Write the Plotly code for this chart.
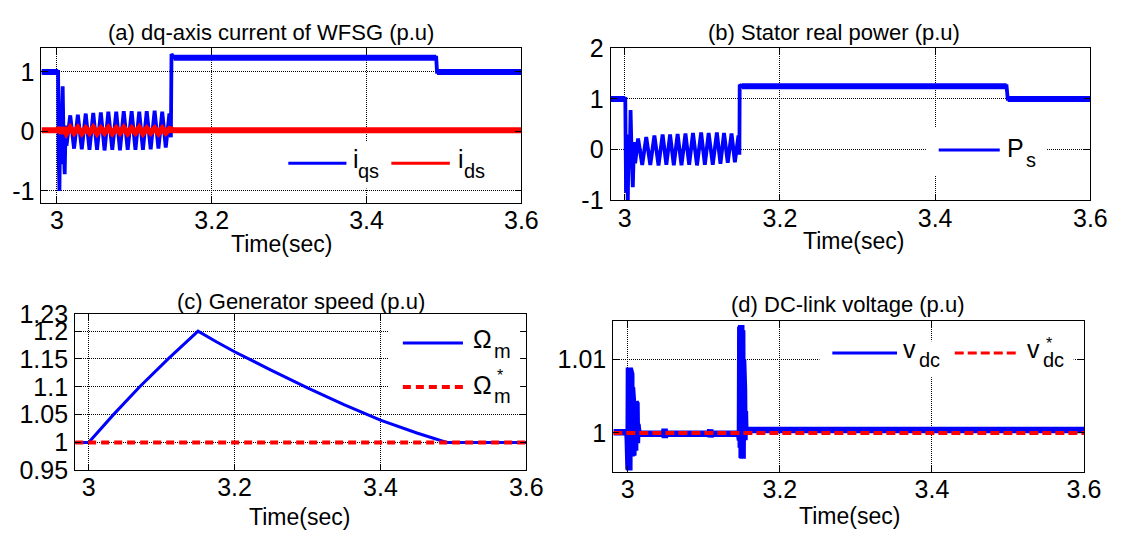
import plotly.graph_objects as go

W, H = 1133, 545
FONT = "Liberation Sans, Arial, Helvetica, sans-serif"
BLUE = "#0000ff"
RED = "#ff0000"

# ---------------------------------------------------------------- data ----
time_ticks = [3.0, 3.2, 3.4, 3.6]
time_labels = ["3", "3.2", "3.4", "3.6"]

# (a) q- and d-axis stator current of the WFSG (p.u)
iqs_t = [2.980, 3.0015, 3.0022, 3.0032, 3.0042, 3.0052, 3.0062, 3.0074, 3.0086,
         3.0100, 3.0112, 3.0123, 3.0172, 3.0221, 3.0270, 3.0321, 3.0372, 3.0420,
         3.0469, 3.0518, 3.0567, 3.0615, 3.0664, 3.0715, 3.0766, 3.0814, 3.0863,
         3.0914, 3.0965, 3.1014, 3.1063, 3.1111, 3.1160, 3.1211, 3.1262, 3.1311,
         3.1360, 3.1406, 3.1453, 3.1472, 3.1480, 3.1510, 3.4900, 3.4910, 3.6000]
iqs_v = [1.00, 1.00, -0.40, -1.00, 0.15, -0.55, 0.25, 0.76, -0.20,
         -0.72, 0.10, -0.24, 0.27, -0.29, 0.28, -0.30, 0.30, -0.31,
         0.31, -0.31, 0.32, -0.32, 0.33, -0.31, 0.33, -0.32, 0.34,
         -0.31, 0.34, -0.31, 0.33, -0.31, 0.34, -0.30, 0.35, -0.29,
         0.33, -0.27, 0.30, -0.10, 1.30, 1.24, 1.24, 1.00, 1.00]
ids_t = [2.980, 3.0010, 3.0030, 3.0060, 3.0090, 3.0123, 3.0172, 3.0221, 3.0270,
         3.0321, 3.0372, 3.0420, 3.0469, 3.0518, 3.0567, 3.0615, 3.0664, 3.0715,
         3.0766, 3.0814, 3.0863, 3.0914, 3.0965, 3.1014, 3.1063, 3.1111, 3.1160,
         3.1211, 3.1262, 3.1311, 3.1360, 3.1406, 3.1453, 3.1500, 3.6000]
ids_v = [0.02, 0.02, 0.06, -0.03, 0.06, -0.03, 0.06, -0.02, 0.06,
         -0.03, 0.05, -0.02, 0.06, -0.03, 0.05, -0.02, 0.06, -0.03,
         0.05, -0.02, 0.06, -0.03, 0.05, -0.02, 0.06, -0.03, 0.05,
         -0.02, 0.05, -0.03, 0.05, -0.02, 0.04, 0.02, 0.02]

# (b) stator real power (p.u)
ps_t = [2.982, 3.0008, 3.0018, 3.0028, 3.0040, 3.0052, 3.0064, 3.0076, 3.0090,
        3.0105, 3.0120, 3.0135, 3.0173, 3.0226, 3.0278, 3.0330, 3.0383, 3.0436,
        3.0489, 3.0537, 3.0585, 3.0633, 3.0682, 3.0732, 3.0783, 3.0831, 3.0880,
        3.0932, 3.0985, 3.1033, 3.1082, 3.1135, 3.1188, 3.1234, 3.1280, 3.1328,
        3.1377, 3.1420, 3.1466, 3.1478, 3.1482, 3.1510, 3.4920, 3.4935, 3.6000]
ps_v = [1.00, 1.00, -0.85, 0.10, -1.05, 0.30, -0.35, 0.78, -0.15,
        -0.74, 0.15, -0.27, 0.22, -0.30, 0.25, -0.30, 0.28, -0.31,
        0.30, -0.30, 0.30, -0.31, 0.31, -0.31, 0.32, -0.30, 0.33,
        -0.31, 0.34, -0.30, 0.33, -0.30, 0.34, -0.28, 0.33, -0.26,
        0.32, -0.25, 0.28, -0.10, 1.28, 1.25, 1.25, 1.00, 1.00]

# (c) generator speed and its reference (p.u)
wm_t = [2.9815, 3.000, 3.034, 3.070, 3.109, 3.150, 3.175, 3.200, 3.250,
        3.300, 3.350, 3.400, 3.450, 3.491, 3.600]
wm_v = [1.000, 1.000, 1.050, 1.100, 1.150, 1.200, 1.181, 1.163, 1.130,
        1.098, 1.068, 1.040, 1.017, 1.000, 1.000]
wm_ref_t = [2.9815, 3.600]
wm_ref_v = [1.000, 1.000]

# (d) DC-link voltage and its reference (p.u)
vdc_t = [2.981, 2.9995, 3.0000, 3.0005, 3.0010, 3.0015, 3.0020, 3.0025, 3.0030,
         3.0035, 3.0040, 3.0045, 3.0050, 3.0055, 3.0060, 3.0066, 3.0072, 3.0078,
         3.0084, 3.0090, 3.0096, 3.0102, 3.0108, 3.0114, 3.0120, 3.0126, 3.0132,
         3.0140, 3.0480, 3.0484, 3.0488, 3.0492, 3.1080, 3.1084, 3.1088, 3.1092,
         3.1465, 3.1470, 3.1475, 3.1480, 3.1486, 3.1492, 3.1498, 3.1504, 3.1510,
         3.1516, 3.1522, 3.1528, 3.1534, 3.1540, 3.1546, 3.1560, 3.6000]
vdc_v = [1.0001, 1.0001, 0.9990, 1.0040, 0.9950, 1.0089, 0.9949, 1.0088, 0.9955,
         1.0086, 0.9966, 1.0080, 0.9968, 1.0062, 0.9968, 1.0045, 0.9969, 1.0042,
         0.9971, 1.0042, 0.9976, 1.0042, 0.9983, 1.0040, 0.9986, 1.0012, 0.9995,
         0.9999, 0.9999, 1.0006, 0.9993, 0.9999, 0.9999, 1.0005, 0.9994, 0.9999,
         0.9999, 1.0118, 0.9990, 1.0145, 0.9980, 1.0147, 0.9966, 1.0140, 0.9965,
         1.0100, 0.9968, 1.0060, 0.9990, 1.0030, 1.0000, 1.0004, 1.0004]
vdc_ref_t = [2.981, 3.600]
vdc_ref_v = [1.000, 1.000]

# y-axis ticks
a_yticks = [-1, 0, 1]
b_yticks = [-1, 0, 1, 2]
c_yticks = [0.95, 1.0, 1.05, 1.1, 1.15, 1.2, 1.23]
c_ylabels = ["0.95", "1", "1.05", "1.1", "1.15", "1.2", "1.23"]
d_yticks = [1.0, 1.01]
d_ylabels = ["1", "1.01"]

titles = ["(a) dq-axis current of WFSG (p.u)", "(b) Stator real power (p.u)",
          "(c) Generator speed (p.u)", "(d) DC-link voltage (p.u)"]
xlabel = "Time(sec)"


# ------------------------------------------------------------- helpers ----
def fx(p):
    return p / W


def fy(p):
    return 1 - p / H


def flat_runs(t, v):
    """Pieces of a series where consecutive samples hold the same level."""
    xs, ys, last = [], [], None
    for i in range(len(t) - 1):
        if v[i] == v[i + 1]:
            if last != i:
                if xs:
                    xs.append(None)
                    ys.append(None)
                xs.append(t[i])
                ys.append(v[i])
            xs.append(t[i + 1])
            ys.append(v[i + 1])
            last = i + 1
    return xs, ys


# panel frames in pixels: (left, right), (top, bottom)
panels = [
    dict(x=(42.1, 529.3), y=(36.0, 199.0), xr=[2.980, 3.6], yr=[-1.2, 1.4],
         yt=a_yticks, yl=[str(v) for v in a_yticks]),
    dict(x=(620.0, 1107.0), y=(36.0, 196.5), xr=[2.982, 3.6], yr=[-1.0, 2.0],
         yt=b_yticks, yl=[str(v) for v in b_yticks]),
    dict(x=(76.3, 534.3), y=(316.7, 481.0), xr=[2.9815, 3.6], yr=[0.95, 1.23],
         yt=c_yticks, yl=c_ylabels),
    dict(x=(622.7, 1100.5), y=(324.0, 482.7), xr=[2.981, 3.6], yr=[0.9947, 1.0152],
         yt=d_yticks, yl=d_ylabels),
]

fig = go.Figure()


def add(i, x, y, color, width, dash=None):
    fig.add_trace(go.Scatter(
        x=x, y=y, mode="lines", xaxis="x" if i == 1 else f"x{i}",
        yaxis="y" if i == 1 else f"y{i}", hoverinfo="skip",
        line=dict(color=color, width=width, dash=dash), showlegend=False))


# (a)
add(1, iqs_t, iqs_v, BLUE, 3.8)
add(1, *flat_runs(iqs_t, iqs_v), BLUE, 6)
add(1, ids_t, ids_v, RED, 6)
# (b)
add(2, ps_t, ps_v, BLUE, 3.8)
add(2, *flat_runs(ps_t, ps_v), BLUE, 6)
# (c)
add(3, wm_t, wm_v, BLUE, 3)
add(3, wm_ref_t, wm_ref_v, RED, 4, "8px,5px")
# (d)
add(4, vdc_t, vdc_v, BLUE, 6.5)
add(4, vdc_ref_t, vdc_ref_v, RED, 4, "9px,4px")

layout = dict(width=W, height=H, margin=dict(l=0, r=0, t=0, b=0),
              paper_bgcolor="white", plot_bgcolor="white", showlegend=False,
              font=dict(family=FONT, color="black"))

common = dict(showline=True, linecolor="black", linewidth=1.2, mirror="ticks",
              ticks="inside", ticklen=6, tickwidth=1, tickcolor="black",
              showgrid=True, gridcolor="#000000", gridwidth=1, griddash="1px,1px",
              zeroline=False, tickfont=dict(family=FONT, size=25, color="black"))

for i, p in enumerate(panels, start=1):
    sfx = "" if i == 1 else str(i)
    layout["xaxis" + sfx] = dict(
        common, domain=[fx(p["x"][0]), fx(p["x"][1])], range=p["xr"],
        anchor="y" + sfx, tickmode="array", tickvals=time_ticks,
        ticktext=time_labels, ticklabelstandoff=-5)
    layout["yaxis" + sfx] = dict(
        common, domain=[fy(p["y"][1]), fy(p["y"][0])], range=p["yr"],
        anchor="x" + sfx, tickmode="array", tickvals=p["yt"],
        ticktext=p["yl"], ticklabelstandoff=1)

annotations = []
shapes = []


def text(s, xc, yc, size):
    annotations.append(dict(text=s, x=fx(xc), y=fy(yc), xref="paper", yref="paper",
                            xanchor="center", yanchor="middle", showarrow=False,
                            font=dict(family=FONT, size=size, color="black")))


def text_base(s, xc, baseline, size):
    # place by baseline: box centre sits ~0.35 em above the baseline
    text(s, xc, baseline - 0.3465 * size, size)


def star(xc, yc, size=16):
    # asterisk glyph centre sits ~0.22 em above its text-box centre
    text("*", xc, yc + 0.22 * size, size)


# titles and time labels
for s, (xc, yc) in zip(titles, [(275, 19), (846.5, 19), (305.5, 303), (861, 306.5)]):
    text(s, xc, yc, 22)
for xc, yc in [(285.7, 242), (866, 239), (304, 530), (862, 529)]:
    text(xlabel, xc, yc, 23)


def box(x0, y0, x1, y1):
    shapes.append(dict(type="rect", xref="paper", yref="paper", x0=fx(x0), x1=fx(x1),
                       y0=fy(y1), y1=fy(y0), fillcolor="white", line=dict(width=0),
                       layer="above"))


def sample(x0, x1, y, color, width, dash=None):
    shapes.append(dict(type="line", xref="paper", yref="paper", x0=fx(x0), x1=fx(x1),
                       y0=fy(y), y1=fy(y), layer="above",
                       line=dict(color=color, width=width, dash=dash)))


LEG, SUB = 25, 20

# legend (a)
box(287, 134, 497, 184)
sample(292.7, 351.7, 157.3, BLUE, 3)
sample(397.3, 456.7, 157.3, RED, 3)
text_base("i", 361.3, 161.7, LEG)
text_base("qs", 374.5, 172.7, SUB)
text_base("i", 468.3, 161.7, LEG)
text_base("ds", 482, 172.7, SUB)
# legend (b)
box(940, 120, 1063, 170)
sample(953, 1015, 143.3, BLUE, 3)
text_base("P", 1031, 150, LEG)
text_base("s", 1047, 161, SUB)
# legend (c)
box(394, 322, 528, 417)
sample(409, 470, 346.7, BLUE, 3)
sample(409, 470, 393.3, RED, 4, "8px,5px")
text_base("Ω", 490, 351.7, LEG)
text_base("m", 510, 361.7, SUB)
text_base("Ω", 490, 400, LEG)
text_base("m", 510, 410, SUB)
star(508, 378)
# legend (d)
box(832, 345, 1090, 383)
sample(845, 910.7, 357.3, BLUE, 3)
sample(969.3, 1031.7, 357.3, RED, 3, "9px,4px")
text_base("v", 923, 361.7, LEG)
text_base("dc", 943.3, 371.7, SUB)
text_base("v", 1048.8, 361.7, LEG)
text_base("dc", 1069.5, 371.7, SUB)
star(1065, 343.3)

layout["annotations"] = annotations
layout["shapes"] = shapes
fig.update_layout(layout)
fig.write_html("out.html")
